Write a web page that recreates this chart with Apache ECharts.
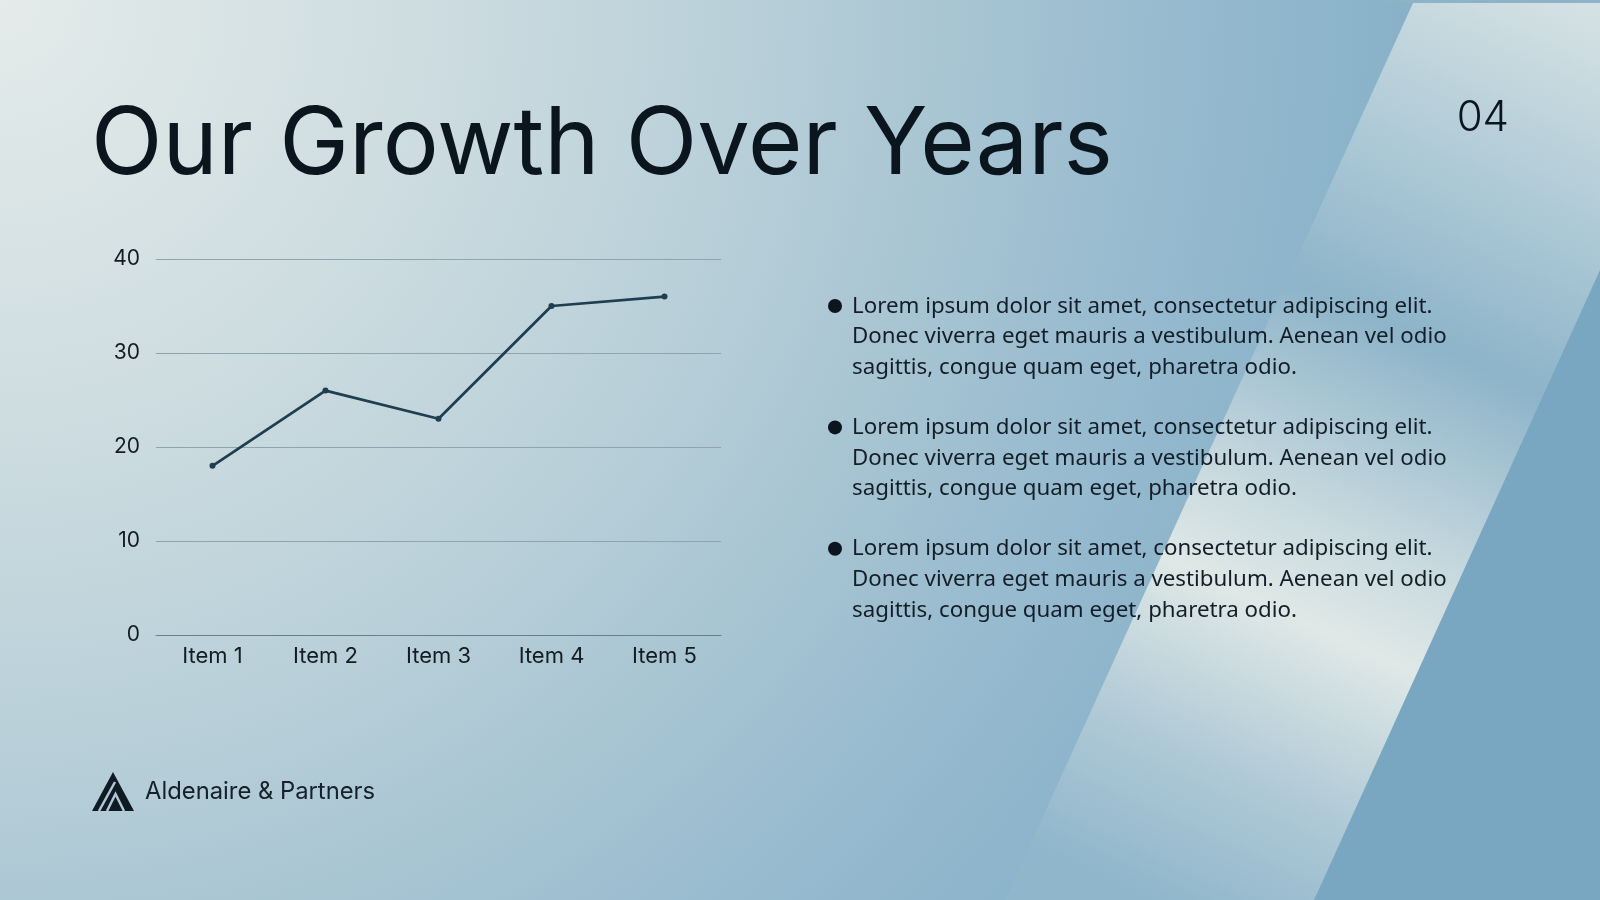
<!DOCTYPE html>
<html>
<head>
<meta charset="utf-8">
<title>Our Growth Over Years</title>
<script src="https://cdn.jsdelivr.net/npm/echarts@6/dist/echarts.min.js"></script>
<style>
  html, body { margin: 0; padding: 0; width: 1600px; height: 900px; overflow: hidden; }
  #main { width: 1600px; height: 900px; }
</style>
</head>
<body>
<div id="main"></div>
<script>
// chart data
var categories = ['Item 1', 'Item 2', 'Item 3', 'Item 4', 'Item 5'];
var seriesValues = [18, 26, 23, 35, 36];
var yTicks = [0, 10, 20, 30, 40];

var pageTitle = 'Our Growth Over Years';
var pageNumber = '04';
var companyName = 'Aldenaire & Partners';
var bulletLines = [
	'Lorem ipsum dolor sit amet, consectetur adipiscing elit.',
	'Donec viverra eget mauris a vestibulum. Aenean vel odio',
	'sagittis, congue quam eget, pharetra odio.'
];

var titleFont = 'Inter, Lato, sans-serif';
var bodyFont = '"Noto Sans", "Open Sans", sans-serif';
var inkColor = '#0b151d';

// background pieces (decoration only)
var graphics = [{
	type: 'rect',
	silent: true,
	z: -10,
	shape: { x: 0, y: 0, width: 1600, height: 900 },
	style: {
		fill: {
			type: 'radial', x: 0, y: 0, r: 1750, global: true,
			colorStops: [
				{ offset: 0, color: '#e4ebea' },
				{ offset: 0.22, color: '#d0dee1' },
				{ offset: 0.42, color: '#b9d0d9' },
				{ offset: 0.53, color: '#aac6d3' },
				{ offset: 0.66, color: '#98bbcf' },
				{ offset: 0.84, color: '#84afc7' },
				{ offset: 1, color: '#74a3c0' }
			]
		}
	}
}, {
	// darker region right of the band
	type: 'polygon',
	silent: true,
	z: -9,
	shape: { points: [[1600, 270], [1600, 900], [1314, 900]] },
	style: { fill: '#79a7c2' }
}, {
	// light diagonal band
	type: 'polygon',
	silent: true,
	z: -9,
	shape: { points: [[1413, 3], [1600, 3], [1600, 270], [1314, 900], [1005, 900]] },
	style: {
		fill: {
			type: 'linear', x: 1560, y: 0, x2: 1150, y2: 900, global: true,
			colorStops: [
				{ offset: 0, color: '#d4e1e3' },
				{ offset: 0.22, color: '#aac7d5' },
				{ offset: 0.37, color: '#8db4c9' },
				{ offset: 0.58, color: '#c9dadf' },
				{ offset: 0.68, color: '#dfe8e6' },
				{ offset: 0.85, color: '#afc9d6' },
				{ offset: 1, color: '#8fb6cb' }
			]
		}
	}
}, {
	type: 'rect',
	silent: true,
	z: -9,
	shape: { x: 1380, y: 0, width: 220, height: 3 },
	style: { fill: '#8db3c8' }
}, {
	type: 'text',
	left: 91,
	top: 99,
	style: { text: pageTitle, font: '400 93.5px ' + titleFont, fill: inkColor }
}, {
	type: 'text',
	right: 91,
	top: 97,
	style: { text: pageNumber, font: '300 42px ' + titleFont, fill: inkColor }
}, {
	// logo mark
	type: 'polygon',
	silent: true,
	shape: { points: [[92, 811], [113, 772], [134, 811]] },
	style: { fill: '#0f1a22' }
}, {
	type: 'polyline',
	silent: true,
	shape: { points: [[99, 811], [115, 782]] },
	style: { stroke: '#aec9d5', lineWidth: 2.5 }
}, {
	type: 'polyline',
	silent: true,
	shape: { points: [[107, 811], [115.5, 794], [124, 811]] },
	style: { stroke: '#aec9d5', lineWidth: 2.5, fill: null }
}, {
	type: 'text',
	left: 145,
	top: 780,
	style: { text: companyName, font: '400 23.8px ' + titleFont, fill: '#14202a' }
}];

// bullets
for (var b = 0; b < 3; b++) {
	var blockTop = 306 + b * 121.4;
	graphics.push({
		type: 'circle',
		silent: true,
		shape: { cx: 835, cy: blockTop, r: 7 },
		style: { fill: inkColor }
	});
	graphics.push({
		type: 'text',
		left: 852,
		top: blockTop - 15,
		style: {
			text: bulletLines.join('\n'),
			font: '400 22.3px ' + bodyFont,
			lineHeight: 30.6,
			fill: '#141e28'
		}
	});
}

var myChart = echarts.init(document.getElementById('main'));
var option = {
	animation: false,
	graphic: graphics,
	grid: {
		left: 156,
		right: 879,
		top: 259,
		bottom: 265
	},
	xAxis: {
		type: 'category',
		data: categories,
		boundaryGap: true,
		axisTick: { show: false },
		axisLine: { lineStyle: { color: '#66808c', width: 1 } },
		axisLabel: {
			margin: 10,
			color: '#141c22',
			fontSize: 22,
			fontFamily: titleFont
		}
	},
	yAxis: {
		type: 'value',
		min: yTicks[0],
		max: yTicks[yTicks.length - 1],
		interval: yTicks[1] - yTicks[0],
		axisLine: { show: false },
		axisTick: { show: false },
		splitLine: { lineStyle: { color: '#8fa4ae', width: 1 } },
		axisLabel: {
			margin: 16,
			color: '#141c22',
			fontSize: 21,
			fontFamily: titleFont
		}
	},
	series: [{
		type: 'line',
		data: seriesValues,
		symbol: 'circle',
		symbolSize: 6,
		lineStyle: { color: '#1f3e50', width: 2.7 },
		itemStyle: { color: '#1f3e50' }
	}]
};
myChart.setOption(option);
</script>
</body>
</html>
